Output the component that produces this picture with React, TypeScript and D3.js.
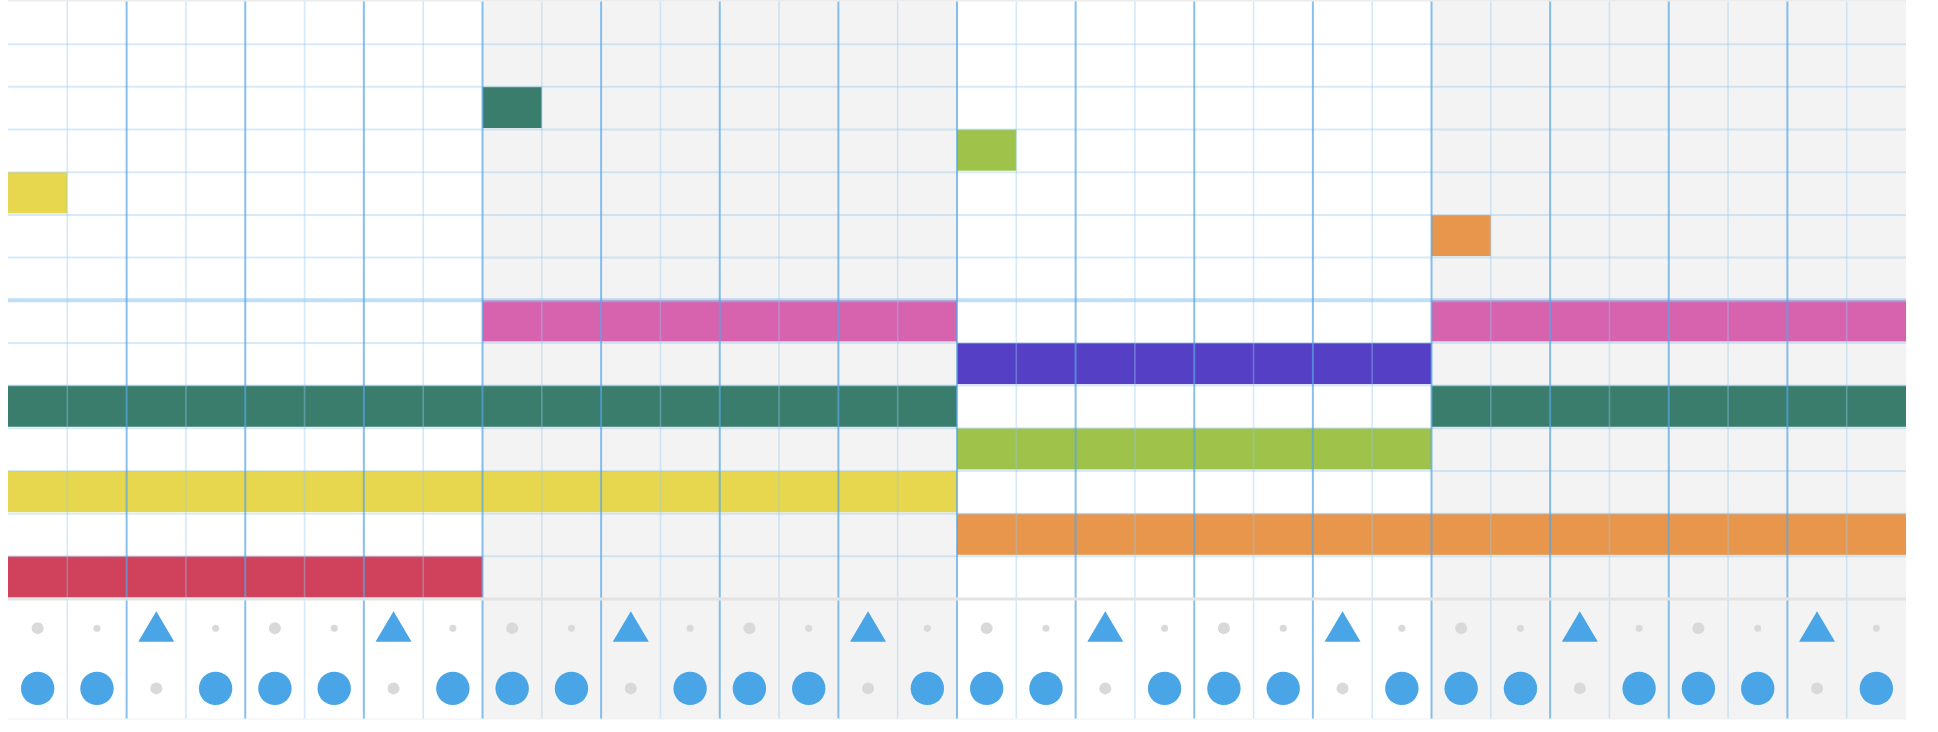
import React from "react";
import * as d3 from "d3";

// ---- data ----
const steps = [0,1,2,3,4,5,6,7,8,9,10,11,12,13,14,15,16,17,18,19,20,21,22,23,24,25,26,27,28,29,30,31];
const pitches = ["B5","A5","G5","F5","E5","D5","C5","B4","A4","G4","F4","E4","D4","C4"];
const notePitches = ["G5","F5","E5","D5","B4","B4","A4","G4","G4","F4","E4","D4","C4"];
const noteStarts = [8, 16, 0, 24, 8, 24, 16, 0, 24, 16, 0, 16, 0];
const noteLengths = [1, 1, 1, 1, 8, 8, 8, 16, 8, 8, 16, 16, 8];
const snareSteps = [2, 6, 10, 14, 18, 22, 26, 30];
const kickSteps = [0,1,3,4,5,7,8,9,11,12,13,15,16,17,19,20,21,23,24,25,27,28,29,31];

const noteColors: Record<string, string> = {
  C: "#d0415b",
  D: "#e8964c",
  E: "#e7d74e",
  F: "#9fc24a",
  G: "#3a7d6d",
  A: "#553fc5",
  B: "#d762ae",
};

const W = 1938;
const H = 732;
const left = 8;
const right = 1906;
const top = 1.5;
const melodyBottom = 599;
const percBottom = 719;

export default function App() {
  const x = d3.scaleBand<number>().domain(steps).range([left, right]).padding(0);
  const y = d3.scaleBand<string>().domain(pitches).range([top, melodyBottom]).padding(0);
  const perc = d3.scaleBand<string>().domain(["snare", "kick"]).range([melodyBottom + 1.5, percBottom]);
  const cw = x.bandwidth();
  const rh = y.bandwidth();

  const blocks = [0, 8, 16, 24];

  return (
    <svg width={W} height={H} style={{ position: "absolute", left: 0, top: 0, background: "#fff" }}>
      {/* background shading per bar of 8 steps */}
      {blocks.map((b, i) => (
        <rect key={"bg" + b} x={x(b)!} y={top} width={cw * 8} height={percBottom - top}
          fill={i % 2 === 0 ? "#ffffff" : "#f3f3f3"} />
      ))}
      <line x1={left} x2={right} y1={0.8} y2={0.8} stroke="#ececec" strokeWidth={1.6} />

      {/* notes */}
      {notePitches.map((p, i) => (
        <rect key={"n" + i} x={x(noteStarts[i])!} y={y(p)!}
          width={cw * noteLengths[i]} height={rh - 1.5}
          fill={noteColors[p[0]]} />
      ))}

      {/* horizontal grid lines */}
      {pitches.slice(1).map((p) => {
        const yy = y(p)!;
        const octave = p === "B4";
        return (
          <line key={"h" + p} x1={left} x2={right} y1={yy} y2={yy}
            stroke={octave ? "rgba(140,195,240,0.55)" : "rgba(150,200,240,0.38)"}
            strokeWidth={octave ? 4 : 2} />
        );
      })}

      {/* vertical grid lines */}
      {steps.slice(1).map((s) => {
        const xx = x(s)!;
        const beat = s % 2 === 0;
        return (
          <line key={"v" + s} x1={xx} x2={xx} y1={top} y2={percBottom}
            stroke={beat ? "rgba(85,165,228,0.7)" : "rgba(150,200,240,0.4)"}
            strokeWidth={beat ? 2 : 1.6} />
        );
      })}

      {/* separator between melody and percussion */}
      <line x1={left} x2={right} y1={melodyBottom} y2={melodyBottom} stroke="#e3e3e3" strokeWidth={3} />
      <line x1={left} x2={right} y1={percBottom} y2={percBottom} stroke="#f0f0f0" strokeWidth={1} />

      {/* percussion: snare row */}
      {steps.map((s) => {
        const cx = x(s)! + cw / 2;
        const cy = perc("snare")! + perc.bandwidth() / 2 - 2;
        if (snareSteps.includes(s)) {
          const path = d3.path();
          path.moveTo(cx, cy - 17);
          path.lineTo(cx + 18, cy + 13.5);
          path.lineTo(cx - 18, cy + 13.5);
          path.closePath();
          return <path key={"s" + s} d={path.toString()} fill="#49a5e6" />;
        }
        return <circle key={"s" + s} cx={cx} cy={cy} r={s % 2 === 0 ? 6 : 3.5} fill="#d9d9d9" />;
      })}

      {/* percussion: kick row */}
      {steps.map((s) => {
        const cx = x(s)! + cw / 2;
        const cy = perc("kick")! + perc.bandwidth() / 2 - 1;
        if (kickSteps.includes(s)) {
          return <circle key={"k" + s} cx={cx} cy={cy} r={16.7} fill="#49a5e6" />;
        }
        return <circle key={"k" + s} cx={cx} cy={cy} r={6} fill="#d9d9d9" />;
      })}
    </svg>
  );
}
